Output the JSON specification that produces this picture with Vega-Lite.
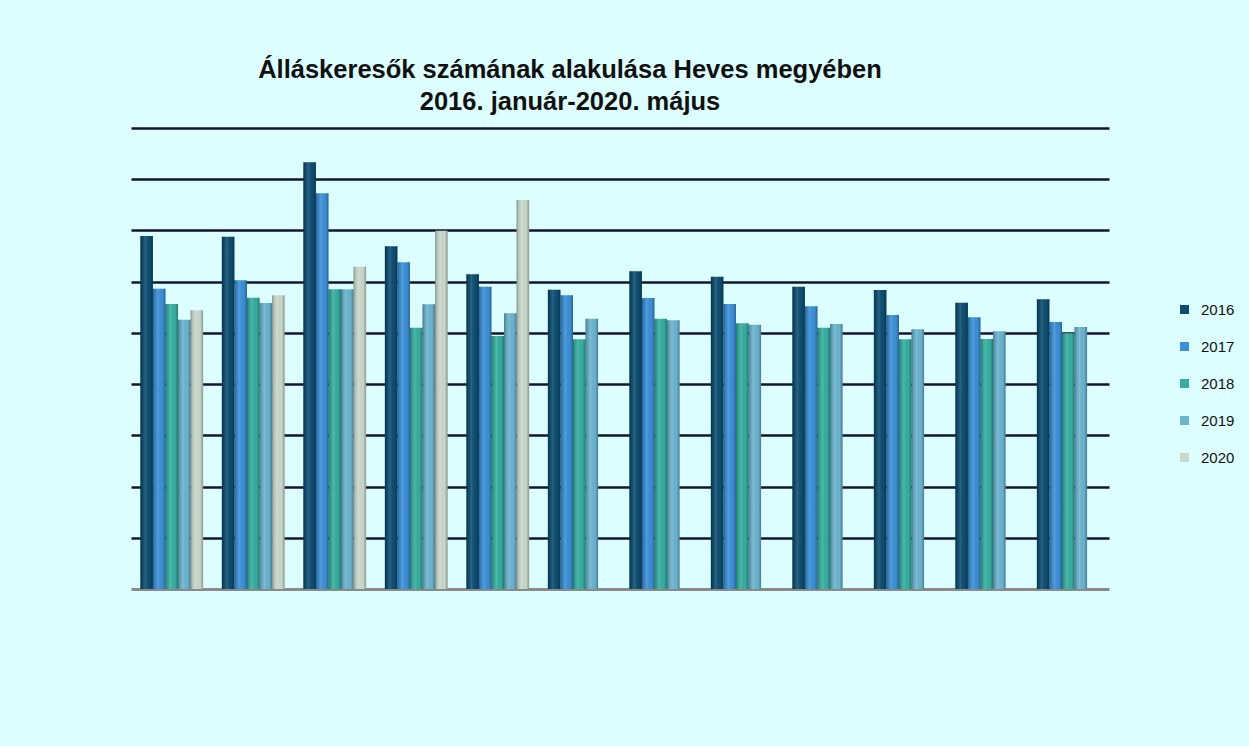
{
  "$schema": "https://vega.github.io/schema/vega-lite/v6.json",
  "width": 978,
  "height": 461,
  "autosize": {"type": "none"},
  "padding": {"left": 131, "top": 128, "right": 140, "bottom": 157},
  "background": "#ddfeff",
  "title": {
    "text": ["Álláskeresők számának alakulása Heves megyében", "2016. január-2020. május"],
    "font": "Liberation Sans",
    "fontSize": 25.5,
    "fontWeight": "bold",
    "color": "#111111",
    "anchor": "middle",
    "dx": -50,
    "offset": 13,
    "lineHeight": 32
  },
  "data": {
    "values": [
      {"honap": "január", "ev": "2016", "fo": 13785},
      {"honap": "január", "ev": "2017", "fo": 11727},
      {"honap": "január", "ev": "2018", "fo": 11129},
      {"honap": "január", "ev": "2019", "fo": 10516},
      {"honap": "január", "ev": "2020", "fo": 10883},
      {"honap": "február", "ev": "2016", "fo": 13757},
      {"honap": "február", "ev": "2017", "fo": 12055},
      {"honap": "február", "ev": "2018", "fo": 11375},
      {"honap": "február", "ev": "2019", "fo": 11168},
      {"honap": "február", "ev": "2020", "fo": 11469},
      {"honap": "március", "ev": "2016", "fo": 16663},
      {"honap": "március", "ev": "2017", "fo": 15452},
      {"honap": "március", "ev": "2018", "fo": 11703},
      {"honap": "március", "ev": "2019", "fo": 11703},
      {"honap": "március", "ev": "2020", "fo": 12586},
      {"honap": "április", "ev": "2016", "fo": 13382},
      {"honap": "április", "ev": "2017", "fo": 12758},
      {"honap": "április", "ev": "2018", "fo": 10204},
      {"honap": "április", "ev": "2019", "fo": 11118},
      {"honap": "április", "ev": "2020", "fo": 13992},
      {"honap": "május", "ev": "2016", "fo": 12289},
      {"honap": "május", "ev": "2017", "fo": 11805},
      {"honap": "május", "ev": "2018", "fo": 9880},
      {"honap": "május", "ev": "2019", "fo": 10766},
      {"honap": "május", "ev": "2020", "fo": 15190},
      {"honap": "június", "ev": "2016", "fo": 11688},
      {"honap": "június", "ev": "2017", "fo": 11469},
      {"honap": "június", "ev": "2018", "fo": 9751},
      {"honap": "június", "ev": "2019", "fo": 10555},
      {"honap": "július", "ev": "2016", "fo": 12406},
      {"honap": "július", "ev": "2017", "fo": 11364},
      {"honap": "július", "ev": "2018", "fo": 10555},
      {"honap": "július", "ev": "2019", "fo": 10493},
      {"honap": "augusztus", "ev": "2016", "fo": 12195},
      {"honap": "augusztus", "ev": "2017", "fo": 11129},
      {"honap": "augusztus", "ev": "2018", "fo": 10376},
      {"honap": "augusztus", "ev": "2019", "fo": 10321},
      {"honap": "szeptember", "ev": "2016", "fo": 11805},
      {"honap": "szeptember", "ev": "2017", "fo": 11039},
      {"honap": "szeptember", "ev": "2018", "fo": 10204},
      {"honap": "szeptember", "ev": "2019", "fo": 10348},
      {"honap": "október", "ev": "2016", "fo": 11676},
      {"honap": "október", "ev": "2017", "fo": 10700},
      {"honap": "október", "ev": "2018", "fo": 9751},
      {"honap": "október", "ev": "2019", "fo": 10141},
      {"honap": "november", "ev": "2016", "fo": 11180},
      {"honap": "november", "ev": "2017", "fo": 10610},
      {"honap": "november", "ev": "2018", "fo": 9763},
      {"honap": "november", "ev": "2019", "fo": 10063},
      {"honap": "december", "ev": "2016", "fo": 11313},
      {"honap": "december", "ev": "2017", "fo": 10426},
      {"honap": "december", "ev": "2018", "fo": 9985},
      {"honap": "december", "ev": "2019", "fo": 10231}
    ]
  },
  "encoding": {
    "x": {
      "field": "honap",
      "type": "nominal",
      "sort": ["január", "február", "március", "április", "május", "június", "július", "augusztus", "szeptember", "október", "november", "december"],
      "scale": {"paddingInner": 0.23, "paddingOuter": 0.115},
      "axis": {"title": null, "labels": false, "ticks": false, "domainColor": "#8a8a8a", "domainWidth": 3}
    },
    "xOffset": {
      "field": "ev",
      "type": "nominal",
      "scale": {"domain": ["2016", "2017", "2018", "2019", "2020"], "paddingInner": 0, "paddingOuter": 0}
    },
    "y": {
      "field": "fo",
      "type": "quantitative",
      "scale": {"domain": [0, 18000], "nice": false},
      "axis": {
        "title": null,
        "labels": false,
        "ticks": false,
        "domain": false,
        "grid": true,
        "gridColor": "#141432",
        "gridWidth": 2.5,
        "values": [2000, 4000, 6000, 8000, 10000, 12000, 14000, 16000, 18000]
      }
    }
  },
  "layer": [
    {
      "mark": {"type": "bar"},
      "encoding": {
        "color": {
          "field": "ev",
          "type": "nominal",
          "scale": {"domain": ["2016", "2017", "2018", "2019", "2020"], "range": ["#0e4d70", "#3b8fd6", "#35ae9f", "#6bb3cf", "#c8d9cb"]},
          "legend": {
            "title": null,
            "orient": "none",
            "legendX": 1046,
            "legendY": 174,
            "symbolType": "square",
            "symbolSize": 81,
            "symbolStrokeWidth": 0,
            "labelFont": "Liberation Sans",
            "labelFontSize": 15,
            "labelColor": "#111111",
            "labelOffset": 9,
            "rowPadding": 21
          }
        }
      }
    },
    {
      "mark": {
        "type": "bar",
        "fill": {
          "gradient": "linear",
          "x1": 0, "y1": 0, "x2": 1, "y2": 0,
          "stops": [
            {"offset": 0, "color": "rgba(0,0,0,0.35)"},
            {"offset": 0.15, "color": "rgba(0,0,0,0.1)"},
            {"offset": 0.4, "color": "rgba(255,255,255,0.12)"},
            {"offset": 0.75, "color": "rgba(0,0,0,0)"},
            {"offset": 1, "color": "rgba(0,0,0,0.3)"}
          ]
        }
      }
    }
  ],
  "config": {"view": {"stroke": null}}
}
